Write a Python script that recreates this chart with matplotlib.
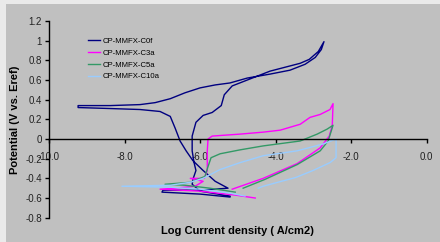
import numpy as np
import matplotlib
matplotlib.use('Agg')
import matplotlib.pyplot as plt
from matplotlib.patches import Rectangle

plt.rcParams['font.family'] = ['Liberation Sans', 'DejaVu Sans']

# log current density (A/cm2) and potential (V vs. Eref)
c0f_logi = [-5.21, -6.00, -7.01, -6.98, -6.00, -5.26, -5.60, -5.92, -6.19, -6.37,
            -6.53, -6.66, -6.79, -7.06, -7.59, -8.38, -9.23, -9.23, -8.38, -7.59,
            -7.19, -6.79, -6.40, -6.00, -5.60, -5.21, -4.75, -4.15, -3.62, -3.22,
            -2.95, -2.79, -2.72, -2.87, -3.11, -3.35, -4.15, -4.75, -5.15, -5.36,
            -5.44, -5.68, -5.92, -6.11, -6.21, -6.21, -6.16, -6.11, -6.19, -6.21,
            -6.00, -5.21]
c0f_pot = [-0.59, -0.56, -0.54, -0.52, -0.52, -0.50, -0.43, -0.32, -0.22, -0.12,
           -0.02, 0.11, 0.23, 0.28, 0.30, 0.31, 0.32, 0.34, 0.34, 0.35,
           0.37, 0.41, 0.47, 0.52, 0.55, 0.57, 0.62, 0.66, 0.70, 0.76,
           0.83, 0.91, 0.99, 0.89, 0.81, 0.77, 0.69, 0.60, 0.54, 0.45,
           0.34, 0.27, 0.24, 0.17, 0.03, -0.12, -0.24, -0.32, -0.41, -0.46,
           -0.53, -0.58]

c3a_logi = [-4.54, -5.07, -6.00, -7.06, -6.66, -6.13, -5.92, -6.26, -5.89, -5.81,
            -5.81, -5.79, -5.68, -4.94, -4.33, -3.88, -3.35, -3.09, -2.82, -2.56,
            -2.48, -2.50, -2.58, -2.82, -3.43, -4.33, -5.15]
c3a_pot = [-0.60, -0.57, -0.53, -0.51, -0.50, -0.48, -0.43, -0.40, -0.40, -0.32,
           -0.12, 0.00, 0.03, 0.05, 0.07, 0.09, 0.15, 0.22, 0.25, 0.30,
           0.36, 0.14, 0.03, -0.09, -0.25, -0.40, -0.51]

c5a_logi = [-4.86, -4.28, -3.43, -2.82, -2.61, -2.48, -2.64, -2.90, -3.35, -4.33,
            -4.94, -5.47, -5.71, -5.79, -5.87, -6.26, -6.93, -6.40, -5.74, -5.07]
c5a_pot = [-0.50, -0.41, -0.26, -0.12, -0.02, 0.14, 0.10, 0.05, -0.02, -0.07,
           -0.11, -0.15, -0.19, -0.28, -0.38, -0.44, -0.46, -0.47, -0.50, -0.54]

c10a_logi = [-4.81, -5.21, -6.00, -6.79, -8.07, -6.79, -6.26, -5.92, -5.47, -4.94,
             -4.33, -3.43, -2.74, -2.40, -2.40, -2.56, -3.01, -3.46, -4.33, -4.46]
c10a_pot = [-0.58, -0.55, -0.51, -0.49, -0.48, -0.47, -0.44, -0.40, -0.31, -0.24,
            -0.17, -0.12, -0.05, 0.00, -0.19, -0.24, -0.32, -0.39, -0.48, -0.50]

labels = ['CP-MMFX-C0f', 'CP-MMFX-C3a', 'CP-MMFX-C5a', 'CP-MMFX-C10a']
colors = ['#000080', '#FF00FF', '#339966', '#99CCFF']

x_ticks = [-10, -8, -6, -4, -2, 0]
y_ticks = [-0.8, -0.6, -0.4, -0.2, 0, 0.2, 0.4, 0.6, 0.8, 1.0, 1.2]

fig = plt.figure(figsize=(4.4, 2.42), dpi=100)
fig.patch.set_facecolor('#C0C0C0')
fig.add_artist(Rectangle((0, 1 - 4 / 242), 1, 4 / 242, transform=fig.transFigure,
                         color='#EAEAEA', lw=0))
fig.add_artist(Rectangle((0, 0), 6 / 440, 1, transform=fig.transFigure,
                         color='#EAEAEA', lw=0))

ax = fig.add_axes([0.1114, 0.1004, 0.8584, 0.8128])
ax.set_facecolor('#C0C0C0')

series = [(c0f_logi, c0f_pot), (c3a_logi, c3a_pot), (c5a_logi, c5a_pot), (c10a_logi, c10a_pot)]
for (xs, ys), lab, col in zip(series, labels, colors):
    ax.plot(xs, ys, color=col, lw=1.0, label=lab)

ax.set_xlim(-10, 0)
ax.set_ylim(-0.8, 1.2)
ax.set_xticks(x_ticks)
ax.set_xticklabels(['%.1f' % v for v in x_ticks])
ax.set_yticks(y_ticks)
ax.set_yticklabels(['%g' % round(v, 1) for v in y_ticks])

ax.spines['top'].set_visible(False)
ax.spines['right'].set_visible(False)
ax.spines['bottom'].set_position(('data', 0))
for s in ['left', 'bottom']:
    ax.spines[s].set_linewidth(1.0)
ax.tick_params(axis='x', direction='out', length=3, width=1.0, pad=6.5, labelsize=7,
               colors='black', labelcolor='#222222')
ax.tick_params(axis='y', direction='out', length=3, width=1.0, pad=2, labelsize=7,
               colors='black', labelcolor='#222222')

ax.set_xlabel('Log Current density ( A/cm2)', fontsize=8, fontweight='bold')
ax.xaxis.set_label_coords(0.5, -0.04)
ax.set_ylabel('Potential (V vs. Eref)', fontsize=8, fontweight='bold')
ax.yaxis.set_label_coords(-0.077, 0.5)

ax.legend(loc='upper left', bbox_to_anchor=(0.104, 0.915), frameon=False, fontsize=5.6,
          handlelength=1.5, handletextpad=0.35, labelspacing=0.55, borderpad=0,
          borderaxespad=0)

fig.savefig('out.png', dpi=100, facecolor=fig.get_facecolor())
